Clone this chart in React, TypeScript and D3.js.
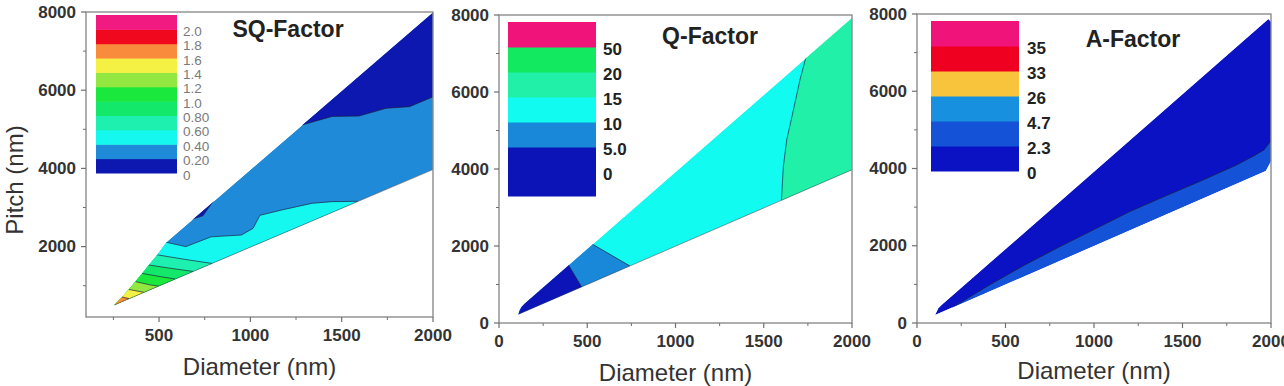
import React from 'react';
import * as d3 from 'd3';

type Pt = [number, number];
type Side = 'tip' | 'above' | 'right' | 'below';
interface Contour { band: number; side: Side; pts: Pt[]; }

// ---- SQ-Factor ----
const sqLabels = ['0', '0.20', '0.40', '0.60', '0.80', '1.0', '1.2', '1.4', '1.6', '1.8', '2.0'];
const sqColors = ['#0c18b0', '#1e8ad8', '#14f8f0', '#1ef0b0', '#14e86a', '#1ae83c', '#92e840', '#f4f044', '#f98c3c', '#f0081e', '#f01a80'];
const sqUpper: Pt[] = [[255, 507], [297, 710], [334, 905], [371, 1105], [407, 1315], [444, 1530], [490, 1790], [540, 2110], [2000, 7990]];
const sqLower: Pt[] = [[255, 507], [2000, 3970]];
const sqContours: Contour[] = [
  { band: 0, side: 'above', pts: [[1282, 5110], [1448, 5330], [1595, 5340], [1743, 5537], [1872, 5580], [2000, 5830]] },
  { band: 0, side: 'above', pts: [[680, 2700], [740, 2790], [800, 3180]] },
  { band: 2, side: 'tip', pts: [[540, 2110], [647, 2000], [785, 2250], [951, 2297], [1015, 2468], [1052, 2800], [1172, 2937], [1338, 3108], [1448, 3150], [1590, 3158]] },
  { band: 3, side: 'tip', pts: [[490, 1790], [638, 1676], [792, 1568]] },
  { band: 4, side: 'tip', pts: [[444, 1530], [564, 1445], [687, 1365]] },
  { band: 5, side: 'tip', pts: [[407, 1315], [509, 1231], [589, 1170]] },
  { band: 6, side: 'tip', pts: [[371, 1105], [454, 1018], [498, 990]] },
  { band: 7, side: 'tip', pts: [[334, 905], [418, 830]] },
  { band: 8, side: 'tip', pts: [[297, 710], [336, 670]] },
];

// ---- Q-Factor ----
const qLabels = ['0', '5.0', '10', '15', '20', '50'];
const qColors = ['#0c14b8', '#1a88d8', '#12fbf0', '#20f0a8', '#12e860', '#f0147a'];
const qUpper: Pt[] = [[110, 226], [118, 340], [130, 430], [145, 500], [2000, 7920]];
const qLower: Pt[] = [[110, 226], [2000, 3980]];
const qContours: Contour[] = [
  { band: 1, side: 'tip', pts: [[525, 2060], [742, 1480]] },
  { band: 0, side: 'tip', pts: [[393, 1510], [468, 937]] },
  { band: 3, side: 'right', pts: [[1745, 7010], [1705, 6312], [1668, 5532], [1630, 4753], [1611, 4060], [1600, 3180]] },
];

// ---- A-Factor ----
const aLabels = ['0', '2.3', '4.7', '26', '33', '35'];
const aColors = ['#0a12c4', '#1452d8', '#1890e0', '#f8c43c', '#f00020', '#f0147a'];
const aUpper: Pt[] = [[102, 206], [120, 380], [140, 470], [1985, 7870], [2000, 7800]];
const aLower: Pt[] = [[102, 206], [1970, 3940], [2000, 4200]];
const aContours: Contour[] = [
  { band: 1, side: 'below', pts: [[200, 400], [400, 960], [600, 1480], [800, 1960], [1000, 2420], [1200, 2880], [1400, 3280], [1600, 3670], [1800, 4080], [1900, 4320], [1960, 4480], [2000, 4720]] },
];

const FONT = '"Liberation Sans", Arial, sans-serif';

interface PanelCfg {
  id: string; title: string; titleX: number; titleY: number;
  x0: number; x1: number; y0: number; y1: number;
  xDomain: [number, number]; yDomain: [number, number];
  xTicks: number[]; xMinor: number[]; yTicks: number[]; yMinor: number[];
  labels: string[]; colors: string[]; base: number;
  upper: Pt[]; lower: Pt[]; contours: Contour[]; edgeLine: boolean;
  lg: { x: number; w: number; top: number; bottom: number; labelX: number; extend: number; light: boolean };
  xTitleY: number; yTitle: boolean;
}

const panels: PanelCfg[] = [
  {
    id: 'sq', title: 'SQ-Factor', titleX: 288, titleY: 37,
    x0: 86, x1: 433, y0: 12, y1: 317, xDomain: [100, 2000], yDomain: [200, 8000],
    xTicks: [500, 1000, 1500, 2000], xMinor: [250, 750, 1250, 1750],
    yTicks: [2000, 4000, 6000, 8000], yMinor: [1000, 3000, 5000, 7000],
    labels: sqLabels, colors: sqColors, base: 1, upper: sqUpper, lower: sqLower, contours: sqContours, edgeLine: true,
    lg: { x: 96, w: 81, top: 15, bottom: 173, labelX: 183, extend: 0, light: true },
    xTitleY: 375, yTitle: true,
  },
  {
    id: 'q', title: 'Q-Factor', titleX: 710, titleY: 44,
    x0: 499, x1: 852, y0: 15, y1: 323, xDomain: [0, 2000], yDomain: [0, 8000],
    xTicks: [0, 500, 1000, 1500, 2000], xMinor: [250, 750, 1250, 1750],
    yTicks: [0, 2000, 4000, 6000, 8000], yMinor: [1000, 3000, 5000, 7000],
    labels: qLabels, colors: qColors, base: 2, upper: qUpper, lower: qLower, contours: qContours, edgeLine: true,
    lg: { x: 508, w: 88, top: 22, bottom: 172, labelX: 603, extend: 24, light: false },
    xTitleY: 381, yTitle: false,
  },
  {
    id: 'a', title: 'A-Factor', titleX: 1133, titleY: 47,
    x0: 917, x1: 1271, y0: 14, y1: 323, xDomain: [0, 2000], yDomain: [0, 8000],
    xTicks: [0, 500, 1000, 1500, 2000], xMinor: [250, 750, 1250, 1750],
    yTicks: [0, 2000, 4000, 6000, 8000], yMinor: [1000, 3000, 5000, 7000],
    labels: aLabels, colors: aColors, base: 0, upper: aUpper, lower: aLower, contours: aContours, edgeLine: false,
    lg: { x: 931, w: 88, top: 21, bottom: 171, labelX: 1027, extend: 0, light: false },
    xTitleY: 379, yTitle: false,
  },
];

const B = 1e5;
function closeRing(c: Contour): Pt[] {
  const f = c.pts[0], l = c.pts[c.pts.length - 1];
  if (c.side === 'tip') return [...c.pts, [l[0], -B], [-B, -B], [-B, f[1]]];
  if (c.side === 'above') return [...c.pts, [l[0], B], [f[0], B]];
  if (c.side === 'right') return [...c.pts, [l[0], -B], [B, -B], [B, B], [f[0], B]];
  return [...c.pts, [B, l[1]], [B, -B], [f[0], -B]];
}

const Panel: React.FC<{ cfg: PanelCfg }> = ({ cfg }) => {
  const x = d3.scaleLinear().domain(cfg.xDomain).range([cfg.x0, cfg.x1]);
  const y = d3.scaleLinear().domain(cfg.yDomain).range([cfg.y1, cfg.y0]);
  const line = d3.line<Pt>().x(d => x(d[0])).y(d => y(d[1]));
  const ring = [...cfg.upper, ...cfg.lower.slice().reverse()];
  const n = cfg.labels.length;
  const ly = d3.scaleLinear().domain([0, n]).range([cfg.lg.bottom, cfg.lg.top]);
  const tickCol = '#6f6f6f';

  return (
    <g>
      <defs>
        <clipPath id={`clip-${cfg.id}`}>
          <path d={line(ring) + 'Z'} />
        </clipPath>
      </defs>
      <g clipPath={`url(#clip-${cfg.id})`}>
        <path d={line(ring) + 'Z'} fill={cfg.colors[cfg.base]} />
        {cfg.contours.map((c, i) => (
          <path key={`f${i}`} d={line(closeRing(c)) + 'Z'} fill={cfg.colors[c.band]} />
        ))}
        {cfg.contours.map((c, i) => (
          <path key={`s${i}`} d={line(c.pts) || ''} fill="none" stroke="#1c1c3c" strokeWidth={0.9} strokeOpacity={0.75} />
        ))}
      </g>
      {cfg.edgeLine && (
        <path d={line(cfg.lower) || ''} fill="none" stroke="#2a2a3a" strokeWidth={0.8} strokeOpacity={0.6} />
      )}

      {/* colour legend */}
      {cfg.colors.map((col, i) => (
        <rect key={`lg${i}`} x={cfg.lg.x} width={cfg.lg.w}
          y={ly(i + 1)} height={ly(i) - ly(i + 1) + (i === 0 ? cfg.lg.extend : 0) + 0.5} fill={col} />
      ))}
      {cfg.labels.map((t, k) => (
        <text key={`ll${k}`} x={cfg.lg.labelX} y={ly(k) + 2} dominantBaseline="central"
          fontFamily={FONT} fontSize={cfg.lg.light ? 13.5 : 17} fontWeight={cfg.lg.light ? 'normal' : 'bold'}
          fill={cfg.lg.light ? '#7a7a7a' : '#222'}>{t}</text>
      ))}

      {/* frame and axes */}
      <rect x={cfg.x0} y={cfg.y0} width={cfg.x1 - cfg.x0} height={cfg.y1 - cfg.y0}
        fill="none" stroke="#8c8c8c" strokeWidth={1.4} />
      {cfg.yTicks.map(v => (
        <g key={`yt${v}`}>
          <line x1={cfg.x0} x2={cfg.x0 - 5} y1={y(v)} y2={y(v)} stroke={tickCol} strokeWidth={1.2} />
          <text x={cfg.x0 - 10} y={y(v)} textAnchor="end" dominantBaseline="central"
            fontFamily={FONT} fontSize={17} fontWeight="bold" fill="#333">{v}</text>
        </g>
      ))}
      {cfg.yMinor.map(v => (
        <line key={`ym${v}`} x1={cfg.x0} x2={cfg.x0 - 3} y1={y(v)} y2={y(v)} stroke={tickCol} strokeWidth={1} />
      ))}
      {cfg.xTicks.map(v => (
        <g key={`xt${v}`}>
          <line x1={x(v)} x2={x(v)} y1={cfg.y1} y2={cfg.y1 + 5} stroke={tickCol} strokeWidth={1.2} />
          <text x={x(v)} y={cfg.y1 + 24} textAnchor="middle"
            fontFamily={FONT} fontSize={17} fontWeight="bold" fill="#333">{v}</text>
        </g>
      ))}
      {cfg.xMinor.map(v => (
        <line key={`xm${v}`} x1={x(v)} x2={x(v)} y1={cfg.y1} y2={cfg.y1 + 3} stroke={tickCol} strokeWidth={1} />
      ))}

      <text x={cfg.titleX} y={cfg.titleY} textAnchor="middle" fontFamily={FONT} fontSize={23}
        fontWeight="bold" fill="#222">{cfg.title}</text>
      <text x={(cfg.x0 + cfg.x1) / 2} y={cfg.xTitleY} textAnchor="middle" fontFamily={FONT}
        fontSize={24} fill="#333">Diameter (nm)</text>
      {cfg.yTitle && (
        <text transform={`translate(22.5,180) rotate(-90)`} textAnchor="middle" fontFamily={FONT}
          fontSize={24} fill="#333">Pitch (nm)</text>
      )}
    </g>
  );
};

export default function App() {
  return (
    <svg width={1284} height={386} style={{ position: 'absolute', left: 0, top: 0, background: '#fff' }}>
      {panels.map(p => <Panel key={p.id} cfg={p} />)}
    </svg>
  );
}
